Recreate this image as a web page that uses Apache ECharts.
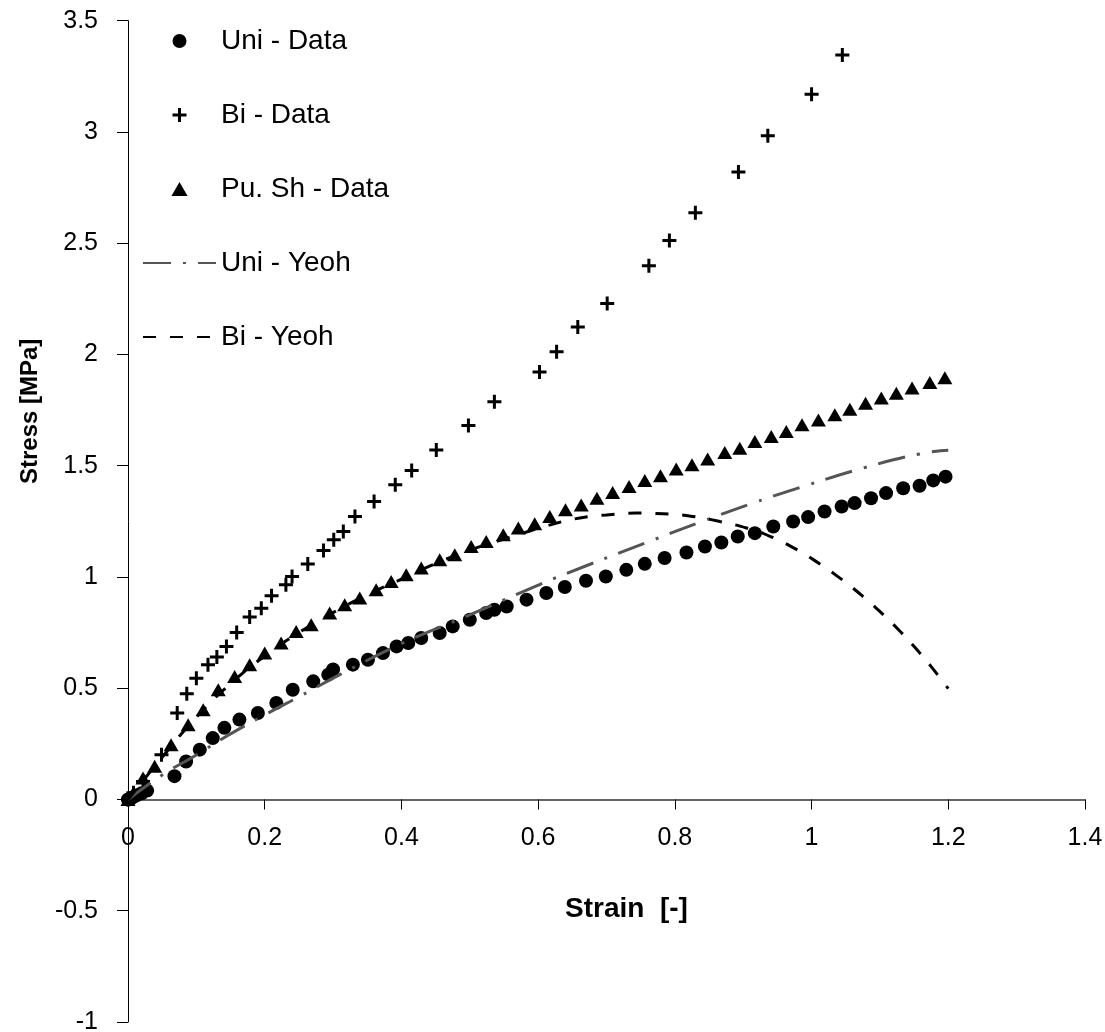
<!DOCTYPE html>
<html>
<head>
<meta charset="utf-8">
<title>Stress - Strain</title>
<script src="https://cdn.jsdelivr.net/npm/echarts@6/dist/echarts.min.js"></script>
<style>
  html, body { margin: 0; padding: 0; background: #fff; }
  #chart { width: 1105px; height: 1032px; }
</style>
</head>
<body>
<div id="chart"></div>
<script>
// Uni - Data (circles)
const uniStrain = [0, 0.006, 0.012, 0.02, 0.028, 0.068, 0.085, 0.105, 0.124, 0.141, 0.163, 0.19, 0.217, 0.241, 0.271, 0.293, 0.3, 0.329, 0.351, 0.373, 0.393, 0.41, 0.429, 0.456, 0.475, 0.5, 0.524, 0.536, 0.554, 0.583, 0.612, 0.639, 0.67, 0.699, 0.729, 0.756, 0.785, 0.817, 0.844, 0.868, 0.892, 0.917, 0.944, 0.973, 0.995, 1.019, 1.044, 1.063, 1.087, 1.109, 1.134, 1.158, 1.178, 1.196]
const uniStress = [0, 0.008, 0.018, 0.028, 0.04, 0.105, 0.171, 0.224, 0.276, 0.322, 0.359, 0.389, 0.434, 0.493, 0.531, 0.561, 0.584, 0.606, 0.628, 0.658, 0.688, 0.703, 0.726, 0.748, 0.778, 0.808, 0.838, 0.853, 0.867, 0.898, 0.928, 0.955, 0.983, 1.002, 1.032, 1.059, 1.085, 1.11, 1.137, 1.155, 1.182, 1.197, 1.227, 1.249, 1.269, 1.294, 1.317, 1.332, 1.354, 1.377, 1.399, 1.41, 1.434, 1.451]

// Bi - Data (plus)
const biStrain = [0, 0.008, 0.022, 0.049, 0.072, 0.086, 0.1, 0.117, 0.13, 0.144, 0.159, 0.178, 0.195, 0.21, 0.231, 0.24, 0.263, 0.286, 0.301, 0.315, 0.332, 0.36, 0.391, 0.415, 0.451, 0.498, 0.536, 0.602, 0.627, 0.658, 0.701, 0.762, 0.792, 0.83, 0.893, 0.936, 1.0, 1.045]
const biStress = [0, 0.03, 0.081, 0.201, 0.389, 0.475, 0.545, 0.606, 0.64, 0.688, 0.751, 0.82, 0.86, 0.916, 0.965, 1.002, 1.058, 1.119, 1.167, 1.204, 1.272, 1.339, 1.414, 1.478, 1.571, 1.681, 1.788, 1.921, 2.012, 2.124, 2.229, 2.399, 2.512, 2.637, 2.82, 2.983, 3.17, 3.346]

// Pu. Sh - Data (triangles)
const shStrain = [0, 0.008, 0.022, 0.039, 0.063, 0.088, 0.11, 0.132, 0.156, 0.178, 0.2, 0.224, 0.246, 0.268, 0.295, 0.317, 0.339, 0.363, 0.385, 0.407, 0.429, 0.456, 0.478, 0.502, 0.524, 0.549, 0.571, 0.595, 0.617, 0.64, 0.663, 0.686, 0.709, 0.733, 0.756, 0.779, 0.802, 0.825, 0.848, 0.873, 0.895, 0.917, 0.941, 0.963, 0.986, 1.01, 1.034, 1.056, 1.079, 1.102, 1.124, 1.147, 1.173, 1.195]
const shStress = [0, 0.03, 0.097, 0.149, 0.246, 0.336, 0.403, 0.493, 0.553, 0.606, 0.658, 0.703, 0.755, 0.785, 0.838, 0.875, 0.905, 0.943, 0.98, 1.01, 1.04, 1.077, 1.1, 1.137, 1.159, 1.19, 1.22, 1.239, 1.272, 1.302, 1.324, 1.354, 1.38, 1.407, 1.434, 1.455, 1.485, 1.504, 1.53, 1.559, 1.579, 1.609, 1.631, 1.654, 1.684, 1.706, 1.729, 1.754, 1.781, 1.804, 1.826, 1.849, 1.874, 1.895]

// Uni - Yeoh (dash-dot)
const uniYeohStrain = [0, 0.05, 0.1, 0.144, 0.2, 0.251, 0.31, 0.4, 0.5, 0.602, 0.675, 0.756, 0.836, 0.914, 0.995, 1.075, 1.158, 1.2]
const uniYeohStress = [0, 0.11, 0.2, 0.284, 0.38, 0.463, 0.561, 0.7, 0.83, 0.966, 1.056, 1.152, 1.245, 1.332, 1.414, 1.489, 1.553, 1.57]

// Bi - Yeoh (dashed)
const biYeohStrain = [0, 0.05, 0.1, 0.15, 0.2, 0.25, 0.3, 0.35, 0.4, 0.45, 0.5, 0.55, 0.627, 0.661, 0.7, 0.744, 0.783, 0.826, 0.866, 0.905, 0.939, 0.973, 1.007, 1.041, 1.075, 1.104, 1.129, 1.153, 1.175, 1.2]
const biYeohStress = [0, 0.19, 0.37, 0.52, 0.645, 0.75, 0.84, 0.92, 0.99, 1.06, 1.12, 1.17, 1.242, 1.265, 1.279, 1.287, 1.284, 1.272, 1.249, 1.22, 1.183, 1.132, 1.069, 0.996, 0.913, 0.833, 0.757, 0.677, 0.597, 0.498]

const zip = (xs, ys) => xs.map((x, i) => [x, ys[i]])

const font = "'Liberation Sans', Arial, sans-serif"
const plusPath = 'path://M5.5,0h3v5.5h5.5v3h-5.5v5.5h-3v-5.5h-5.5v-3h5.5z'
const trianglePath = 'path://M7.5,0L15,13H0Z'

const gridTop = 20.7
const gridBottom = 10
const plotHeight = 1032 - gridTop - gridBottom
// the x axis sits on stress = 0, i.e. 1 unit above the -1 bottom of a 4.5 unit range
const xAxisLift = plotHeight / 4.5

const myChart = echarts.init(document.getElementById('chart'))
const option = {
  animation: false,
  backgroundColor: '#fff',
  textStyle: { fontFamily: font },
  grid: {
    left: 128,
    right: 20,
    top: gridTop,
    bottom: gridBottom,
    containLabel: false,
    outerBoundsMode: 'none'
  },
  legend: {
    orient: 'vertical',
    left: 142,
    top: 27,
    padding: 0,
    itemWidth: 73,
    itemHeight: 14,
    itemGap: 46,
    textStyle: { fontSize: 28, color: '#000', fontFamily: font },
    data: [
      'Uni - Data',
      'Bi - Data',
      'Pu. Sh - Data',
      { name: 'Uni - Yeoh', itemStyle: { opacity: 0 } },
      { name: 'Bi - Yeoh', itemStyle: { opacity: 0 } }
    ]
  },
  xAxis: {
    type: 'value',
    min: 0,
    max: 1.4,
    interval: 0.2,
    position: 'bottom',
    offset: -xAxisLift,
    name: 'Strain  [-]',
    nameLocation: 'middle',
    nameGap: 96,
    nameTextStyle: { fontSize: 28, fontWeight: 'bold', color: '#000', padding: [0, 0, 0, 40] },
    axisLine: { show: true, onZero: false, lineStyle: { color: '#333', width: 1.5 } },
    axisTick: { show: true, inside: false, length: 10, lineStyle: { color: '#000' } },
    axisLabel: { fontSize: 25, color: '#000', margin: 26 },
    splitLine: { show: false }
  },
  yAxis: {
    type: 'value',
    min: -1,
    max: 3.5,
    interval: 0.5,
    name: 'Stress [MPa]',
    nameLocation: 'middle',
    nameGap: 86,
    nameTextStyle: { fontSize: 24, fontWeight: 'bold', color: '#000', padding: [0, 0, 0, 220] },
    axisLine: { show: true, onZero: false, lineStyle: { color: '#000', width: 1 } },
    axisTick: { show: true, inside: false, length: 11, lineStyle: { color: '#000' } },
    axisLabel: { fontSize: 25, color: '#000', margin: 30 },
    splitLine: { show: false }
  },
  series: [
    {
      name: 'Uni - Data',
      type: 'scatter',
      symbol: 'circle',
      symbolSize: 14,
      itemStyle: { color: '#000', opacity: 1 },
      data: zip(uniStrain, uniStress)
    },
    {
      name: 'Bi - Data',
      type: 'scatter',
      symbol: plusPath,
      symbolSize: 14,
      itemStyle: { color: '#000', opacity: 1 },
      data: zip(biStrain, biStress)
    },
    {
      name: 'Pu. Sh - Data',
      type: 'scatter',
      symbol: trianglePath,
      symbolSize: [15, 13],
      itemStyle: { color: '#000', opacity: 1 },
      data: zip(shStrain, shStress)
    },
    {
      name: 'Uni - Yeoh',
      type: 'line',
      smooth: true,
      symbol: 'none',
      showSymbol: false,
      itemStyle: { color: '#555' },
      lineStyle: { color: '#555', width: 3, type: [28, 12, 3, 12] },
      data: zip(uniYeohStrain, uniYeohStress)
    },
    {
      name: 'Bi - Yeoh',
      type: 'line',
      smooth: true,
      symbol: 'none',
      showSymbol: false,
      itemStyle: { color: '#000' },
      lineStyle: { color: '#000', width: 3, type: [13, 14] },
      data: zip(biYeohStrain, biYeohStress)
    }
  ]
}
option && myChart.setOption(option)
</script>
</body>
</html>
